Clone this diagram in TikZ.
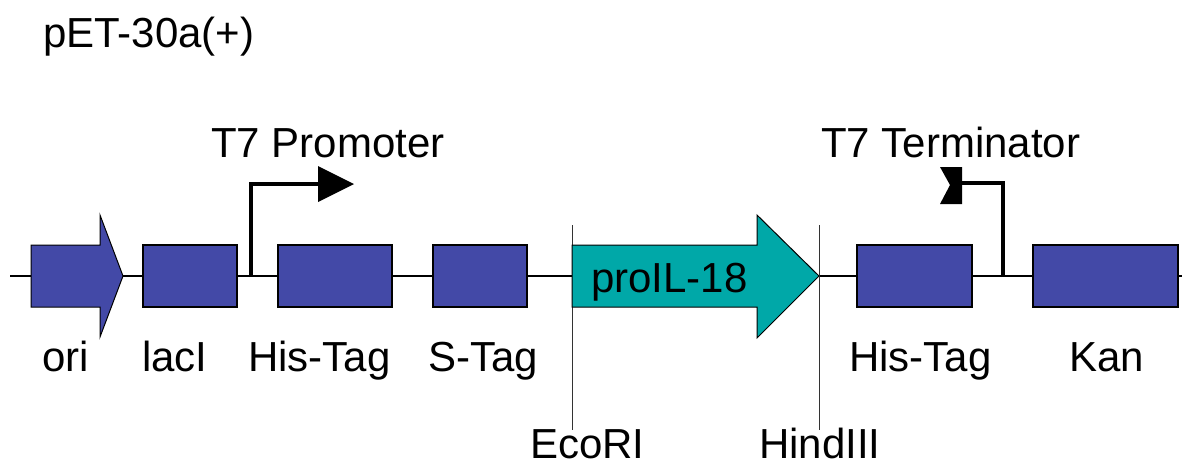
\documentclass[tikz,border=0pt]{standalone}
\usepackage{fontspec}
\setmainfont{Liberation Sans}
\definecolor{geneblue}{RGB}{67,73,167}
\definecolor{geneteal}{RGB}{0,168,168}
\begin{document}
\begin{tikzpicture}[x=1pt,y=-1pt,
  lbl/.style={anchor=base west,inner sep=0pt,font=\fontsize{42}{50}\selectfont},
  genebox/.style={draw=black,line width=1.5pt,fill=geneblue,minimum height=62pt,inner sep=0pt},
  genearrow/.style={draw=black,line width=1pt},
  sitecut/.style={line width=1pt,draw=black!80},
  pmark/.style={line width=3.5pt,draw=black}]
\useasboundingbox (0,0) rectangle (1186,467);
% backbone
\coordinate (bbL) at (10,276);
\coordinate (bbR) at (1182,276);
\draw[line width=2pt] (bbL) -- (bbR);
% restriction sites
\coordinate (ecoT) at (572,225);
\coordinate (ecoB) at (572,430);
\coordinate (hinT) at (819,225);
\coordinate (hinB) at (819,430);
\draw[sitecut] (ecoT) -- (ecoB);
\draw[sitecut] (hinT) -- (hinB);
% ori arrow
\filldraw[genearrow,fill=geneblue] (31,245) -- (100,245) -- (100,215) -- (123,276) -- (100,337) -- (100,307) -- (31,307) -- cycle;
% boxes
\node[genebox,minimum width=94pt] (lacI) at (190,276) {};
\node[genebox,minimum width=114pt] (his1) at (335,276) {};
\node[genebox,minimum width=94pt] (stag) at (480,276) {};
\node[genebox,minimum width=115pt] (his2) at (914.5,276) {};
\node[genebox,minimum width=145pt] (kan) at (1105.5,276) {};
% proIL-18 arrow
\filldraw[genearrow,fill=geneteal] (572,245) -- (757,245) -- (757,215) -- (819,276) -- (757,338) -- (757,307) -- (572,307) -- cycle;
\node[lbl] (pro) at (591,292) {proIL-18};
% T7 promoter
\coordinate (pB) at (251,277);
\coordinate (pC) at (251,184);
\coordinate (pE) at (320,184);
\draw[pmark] (pB) -- (pC) -- (pE);
\fill (318,166) -- (354,184) -- (318,202) -- cycle;
% T7 terminator
\coordinate (tB) at (1003,277);
\coordinate (tC) at (1003,183);
\coordinate (tE) at (960,183);
\draw[pmark] (tB) -- (tC) -- (tE);
\fill (940,167) -- (962,167) -- (962,204) -- (940,204) -- (950,185) -- cycle;
% labels
\node[lbl] (title) at (43,47) {pET-30a(+)};
\node[lbl] (t7p) at (211,157) {T7 Promoter};
\node[lbl] (t7t) at (821,157) {T7 Terminator};
\node[lbl] (lori) at (42,371) {ori};
\node[lbl] (llac) at (142,371) {lacI};
\node[lbl] (lhis1) at (248,371) {His-Tag};
\node[lbl] (lstag) at (428,371) {S-Tag};
\node[lbl] (lhis2) at (849,371) {His-Tag};
\node[lbl] (lkan) at (1069,371) {Kan};
\node[lbl] (leco) at (530,458) {EcoRI};
\node[lbl] (lhin) at (759,458) {HindIII};
\end{tikzpicture}
\end{document}
